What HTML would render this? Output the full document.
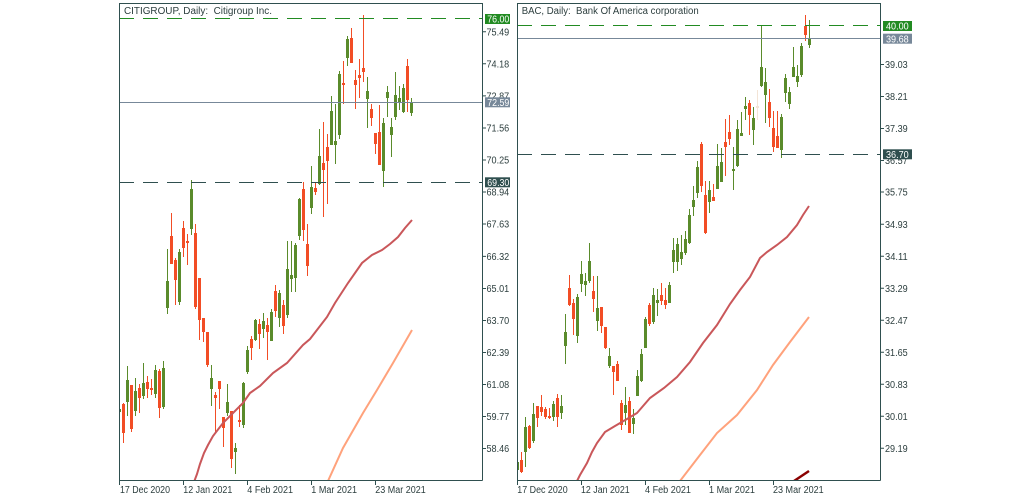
<!DOCTYPE html>
<html><head><meta charset="utf-8"><style>
html,body{margin:0;padding:0;background:#fff;width:1028px;height:500px;overflow:hidden}
svg{display:block}
text{font-family:"Liberation Sans",Arial,sans-serif;font-size:10px;fill:#2c3e3e}
.w{fill:#fff}
</style></head><body>
<svg width="1028" height="500" viewBox="0 0 1028 500" xmlns="http://www.w3.org/2000/svg">
<defs>
<clipPath id="cl"><rect x="120" y="4" width="362" height="476"/></clipPath>
<clipPath id="cr"><rect x="518" y="4" width="362" height="476"/></clipPath>
</defs>
<rect width="1028" height="500" fill="#fff"/>

<!-- LEFT PANEL -->
<g clip-path="url(#cl)">
<path fill="#5a8b2b" d="M119 407h1V414h-1zM118 409h3V412h-3zM127 366h1V416h-1zM126 380h3V402h-3zM135 378h1V416h-1zM134 391h3V411h-3zM143 363h1V399h-1zM142 383h3V396h-3zM155 365h1V398h-1zM154 370h3V394h-3zM163 361h1V409h-1zM162 368h3V407h-3zM167 249h1V314h-1zM166 281h3V308h-3zM179 249h1V305h-1zM178 252h3V302h-3zM191 180h1V235h-1zM190 189h3V229h-3zM211 365h1V406h-1zM210 378h3V389h-3zM227 384h1V416h-1zM226 402h3V413h-3zM235 443h1V474h-1zM234 448h3V452h-3zM243 382h1V428h-1zM242 383h3V425h-3zM247 346h1V374h-1zM246 350h3V372h-3zM255 319h1V341h-1zM254 320h3V340h-3zM263 313h1V338h-1zM262 321h3V329h-3zM271 309h1V341h-1zM270 312h3V341h-3zM279 290h1V327h-1zM278 293h3V318h-3zM287 241h1V318h-1zM286 269h3V315h-3zM291 241h1V292h-1zM290 275h3V279h-3zM295 243h1V292h-1zM294 245h3V278h-3zM299 198h1V240h-1zM298 199h3V236h-3zM311 166h1V214h-1zM310 187h3V208h-3zM319 129h1V185h-1zM318 156h3V184h-3zM331 96h1V145h-1zM330 111h3V145h-3zM335 104h1V164h-1zM334 141h3V145h-3zM339 71h1V139h-1zM338 74h3V135h-3zM347 36h1V66h-1zM346 39h3V58h-3zM367 77h1V128h-1zM366 91h3V99h-3zM383 118h1V187h-1zM382 123h3V171h-3zM387 86h1V117h-1zM386 92h3V98h-3zM391 118h1V157h-1zM390 127h3V135h-3zM395 72h1V120h-1zM394 95h3V117h-3zM399 86h1V110h-1zM398 98h3V102h-3zM403 84h1V113h-1zM402 88h3V112h-3zM411 98h1V116h-1zM410 102h3V113h-3z"/>
<path fill="#f24d25" d="M123 403h1V443h-1zM122 404h3V433h-3zM131 385h1V432h-1zM130 385h3V429h-3zM139 384h1V413h-1zM138 388h3V398h-3zM147 376h1V398h-1zM146 382h3V389h-3zM151 379h1V395h-1zM150 388h3V390h-3zM159 369h1V418h-1zM158 371h3V408h-3zM171 213h1V264h-1zM170 236h3V264h-3zM175 258h1V305h-1zM174 260h3V280h-3zM183 221h1V257h-1zM182 228h3V248h-3zM187 234h1V265h-1zM186 241h3V243h-3zM195 224h1V309h-1zM194 233h3V307h-3zM199 278h1V340h-1zM198 278h3V320h-3zM203 318h1V342h-1zM202 318h3V332h-3zM207 332h1V367h-1zM206 332h3V365h-3zM215 392h1V432h-1zM214 395h3V398h-3zM219 381h1V409h-1zM218 381h3V389h-3zM223 417h1V447h-1zM222 417h3V428h-3zM231 411h1V468h-1zM230 411h3V459h-3zM239 405h1V427h-1zM238 420h3V422h-3zM251 336h1V360h-1zM250 339h3V348h-3zM259 319h1V349h-1zM258 324h3V334h-3zM267 318h1V360h-1zM266 325h3V332h-3zM275 285h1V317h-1zM274 291h3V311h-3zM283 300h1V334h-1zM282 305h3V326h-3zM303 182h1V241h-1zM302 189h3V230h-3zM307 224h1V276h-1zM306 244h3V266h-3zM315 183h1V195h-1zM314 188h3V192h-3zM323 122h1V217h-1zM322 163h3V170h-3zM327 134h1V204h-1zM326 147h3V161h-3zM343 61h1V104h-1zM342 83h3V85h-3zM351 28h1V63h-1zM350 38h3V63h-3zM355 70h1V109h-1zM354 80h3V85h-3zM359 59h1V98h-1zM358 75h3V78h-3zM363 15h1V82h-1zM362 68h3V72h-3zM371 104h1V126h-1zM370 109h3V118h-3zM375 133h1V154h-1zM374 133h3V144h-3zM379 105h1V165h-1zM378 132h3V165h-3zM407 59h1V112h-1zM406 66h3V100h-3z"/>
<polyline fill="none" stroke="#c9575a" stroke-width="2" points="194,482 197,474 200,464 204,453 208,445 213,436 223,423 233,413 243,403 250,393 260,386 268,378 273,373 287,363 303,345 310,339 327,317 335,303 348,283 362,263 372,255 382,250 390,244 398,237 405,228 412,220"/>
<polyline fill="none" stroke="#ffa27c" stroke-width="2" points="328,481 343,448 363,413 377,390 393,363 412,330"/>
<path d="M119 18.5H482" stroke="#228b22" stroke-width="1" stroke-dasharray="15 9"/>
<path d="M119 102.5H482" stroke="#778899" stroke-width="1"/>
<path d="M119 182.5H482" stroke="#2f4f4f" stroke-width="1" stroke-dasharray="15 9"/>
</g>
<path d="M119.5 3V485M119 3.5H482.5M482.5 3V480.5M119 480.5H482.5" stroke="#2f4f4f" stroke-width="1" fill="none"/>
<path d="M183.5 480V485M247.5 480V485M311.5 480V485M375.5 480V485" stroke="#2f4f4f" stroke-width="1"/>
<path d="M482 31.7h4M482 63.8h4M482 95.9h4M482 128h4M482 160h4M482 192h4M482 224h4M482 256.4h4M482 288.5h4M482 320.5h4M482 352.5h4M482 384.5h4M482 416.5h4M482 448.5h4" stroke="#2f4f4f" stroke-width="1"/>
<text x="124" y="14" textLength="148" lengthAdjust="spacingAndGlyphs">CITIGROUP, Daily:&#160; Citigroup Inc.</text>
<g>
<text x="486.5" y="35.3" textLength="22.7" lengthAdjust="spacingAndGlyphs">75.49</text>
<text x="486.5" y="67.4" textLength="22.7" lengthAdjust="spacingAndGlyphs">74.18</text>
<text x="486.5" y="99.5" textLength="22.7" lengthAdjust="spacingAndGlyphs">72.87</text>
<text x="486.5" y="131.6" textLength="22.7" lengthAdjust="spacingAndGlyphs">71.56</text>
<text x="486.5" y="163.6" textLength="22.7" lengthAdjust="spacingAndGlyphs">70.25</text>
<text x="486.5" y="195.6" textLength="22.7" lengthAdjust="spacingAndGlyphs">68.94</text>
<text x="486.5" y="227.6" textLength="22.7" lengthAdjust="spacingAndGlyphs">67.63</text>
<text x="486.5" y="260" textLength="22.7" lengthAdjust="spacingAndGlyphs">66.32</text>
<text x="486.5" y="292.1" textLength="22.7" lengthAdjust="spacingAndGlyphs">65.01</text>
<text x="486.5" y="324.1" textLength="22.7" lengthAdjust="spacingAndGlyphs">63.70</text>
<text x="486.5" y="356.1" textLength="22.7" lengthAdjust="spacingAndGlyphs">62.39</text>
<text x="486.5" y="388.1" textLength="22.7" lengthAdjust="spacingAndGlyphs">61.08</text>
<text x="486.5" y="420.1" textLength="22.7" lengthAdjust="spacingAndGlyphs">59.77</text>
<text x="486.5" y="452.1" textLength="22.7" lengthAdjust="spacingAndGlyphs">58.46</text>
</g>
<rect x="485" y="14" width="25" height="10" fill="#228b22"/>
<text class="w" x="487.3" y="22.6" textLength="22" lengthAdjust="spacingAndGlyphs">76.00</text>
<rect x="485" y="97.3" width="25" height="10" fill="#778899"/>
<text class="w" x="487.3" y="105.9" textLength="22" lengthAdjust="spacingAndGlyphs">72.59</text>
<rect x="485" y="177.3" width="25" height="10" fill="#2f4f4f"/>
<text class="w" x="487.3" y="185.9" textLength="22" lengthAdjust="spacingAndGlyphs">69.30</text>
<text x="120" y="493" textLength="50" lengthAdjust="spacingAndGlyphs">17 Dec 2020</text>
<text x="183.3" y="493" textLength="49" lengthAdjust="spacingAndGlyphs">12 Jan 2021</text>
<text x="247.3" y="493" textLength="45.7" lengthAdjust="spacingAndGlyphs">4 Feb 2021</text>
<text x="311.3" y="493" textLength="45.7" lengthAdjust="spacingAndGlyphs">1 Mar 2021</text>
<text x="375.3" y="493" textLength="50.4" lengthAdjust="spacingAndGlyphs">23 Mar 2021</text>

<!-- RIGHT PANEL -->
<g clip-path="url(#cr)">
<path fill="#5a8b2b" d="M517 460h1V472h-1zM516 462h3V470h-3zM525 417h1V467h-1zM524 427h3V452h-3zM533 403h1V443h-1zM532 414h3V441h-3zM553 401h1V421h-1zM552 404h3V417h-3zM561 395h1V419h-1zM560 406h3V413h-3zM565 314h1V364h-1zM564 332h3V346h-3zM577 294h1V343h-1zM576 297h3V336h-3zM581 261h1V292h-1zM580 274h3V284h-3zM585 273h1V296h-1zM584 281h3V285h-3zM589 243h1V283h-1zM588 261h3V281h-3zM597 276h1V331h-1zM596 308h3V321h-3zM609 348h1V368h-1zM608 356h3V366h-3zM625 387h1V425h-1zM624 405h3V413h-3zM633 409h1V434h-1zM632 418h3V424h-3zM637 370h1V396h-1zM636 376h3V396h-3zM641 349h1V382h-1zM640 354h3V381h-3zM645 317h1V348h-1zM644 319h3V348h-3zM653 288h1V324h-1zM652 295h3V322h-3zM657 289h1V316h-1zM656 300h3V303h-3zM669 282h1V303h-1zM668 285h3V303h-3zM673 238h1V273h-1zM672 250h3V262h-3zM677 238h1V271h-1zM676 244h3V262h-3zM681 235h1V265h-1zM680 252h3V259h-3zM685 231h1V255h-1zM684 239h3V253h-3zM689 209h1V244h-1zM688 215h3V243h-3zM693 186h1V216h-1zM692 200h3V207h-3zM697 161h1V198h-1zM696 167h3V193h-3zM709 181h1V213h-1zM708 190h3V202h-3zM717 144h1V189h-1zM716 166h3V189h-3zM721 148h1V182h-1zM720 162h3V182h-3zM733 147h1V190h-1zM732 169h3V171h-3zM737 120h1V167h-1zM736 129h3V166h-3zM741 112h1V136h-1zM740 133h3V136h-3zM745 97h1V120h-1zM744 106h3V109h-3zM753 107h1V145h-1zM752 118h3V130h-3zM761 26h1V87h-1zM760 67h3V86h-3zM765 68h1V123h-1zM764 82h3V95h-3zM781 114h1V158h-1zM780 117h3V150h-3zM785 74h1V102h-1zM784 78h3V93h-3zM789 87h1V109h-1zM788 92h3V104h-3zM793 47h1V77h-1zM792 67h3V77h-3zM797 65h1V87h-1zM796 76h3V82h-3zM801 43h1V77h-1zM800 46h3V75h-3zM809 20h1V48h-1zM808 38h3V45h-3z"/>
<path fill="#f24d25" d="M521 452h1V473h-1zM520 460h3V472h-3zM529 425h1V449h-1zM528 426h3V448h-3zM537 406h1V427h-1zM536 406h3V418h-3zM541 395h1V416h-1zM540 407h3V412h-3zM545 407h1V419h-1zM544 409h3V417h-3zM549 408h1V419h-1zM548 416h3V418h-3zM557 394h1V427h-1zM556 398h3V417h-3zM569 275h1V306h-1zM568 288h3V305h-3zM573 299h1V335h-1zM572 303h3V319h-3zM593 276h1V312h-1zM592 291h3V299h-3zM601 307h1V333h-1zM600 307h3V326h-3zM605 327h1V349h-1zM604 327h3V348h-3zM613 366h1V395h-1zM612 366h3V372h-3zM617 361h1V381h-1zM616 364h3V381h-3zM621 400h1V430h-1zM620 403h3V425h-3zM629 397h1V433h-1zM628 401h3V433h-3zM649 303h1V326h-1zM648 305h3V324h-3zM661 283h1V305h-1zM660 295h3V301h-3zM665 288h1V309h-1zM664 300h3V305h-3zM701 142h1V192h-1zM700 144h3V186h-3zM705 181h1V234h-1zM704 195h3V233h-3zM713 184h1V201h-1zM712 197h3V201h-3zM725 119h1V176h-1zM724 142h3V147h-3zM729 115h1V145h-1zM728 132h3V139h-3zM749 100h1V135h-1zM748 103h3V115h-3zM769 89h1V127h-1zM768 102h3V118h-3zM773 111h1V152h-1zM772 128h3V147h-3zM777 111h1V148h-1zM776 136h3V148h-3zM805 15h1V41h-1zM804 26h3V35h-3z"/>
<path fill="#f3e4d6" d="M757 90h1V120h-1zM756 106h3V108h-3z"/>
<polyline fill="none" stroke="#c9575a" stroke-width="2" points="577,481 580,475 587,463 592,452 597,443 605,432 615,426 627,419 637,413 650,398 664,388 677,377 690,362 703,343 717,325 730,304 740,290 750,277 760,258 767,252 777,245 787,237 797,225 803,215 809,206"/>
<polyline fill="none" stroke="#ffa27c" stroke-width="2" points="680,481 700,455 717,433 737,415 757,390 773,365 790,342 809,317"/>
<polyline fill="none" stroke="#8b0000" stroke-width="2.5" points="794,481 800,477 809,471"/>
<path d="M517 25.5H880" stroke="#228b22" stroke-width="1" stroke-dasharray="15 9"/>
<path d="M517 38.5H880" stroke="#778899" stroke-width="1"/>
<path d="M517 154.5H880" stroke="#2f4f4f" stroke-width="1" stroke-dasharray="15 9"/>
</g>
<path d="M517.5 3V485M517 3.5H880.5M880.5 3V480.5M517 480.5H880.5" stroke="#2f4f4f" stroke-width="1" fill="none"/>
<path d="M581.5 480V485M645.5 480V485M709.5 480V485M773.5 480V485" stroke="#2f4f4f" stroke-width="1"/>
<path d="M880 64.5h4M880 96.5h4M880 128.5h4M880 160.5h4M880 192h4M880 224.3h4M880 256.3h4M880 288.3h4M880 320.3h4M880 352.3h4M880 384.3h4M880 416.3h4M880 448.3h4" stroke="#2f4f4f" stroke-width="1"/>
<text x="521.7" y="14" textLength="177" lengthAdjust="spacingAndGlyphs">BAC, Daily:&#160; Bank Of America corporation</text>
<g>
<text x="885" y="68.1" textLength="22.7" lengthAdjust="spacingAndGlyphs">39.03</text>
<text x="885" y="100.1" textLength="22.7" lengthAdjust="spacingAndGlyphs">38.21</text>
<text x="885" y="132.1" textLength="22.7" lengthAdjust="spacingAndGlyphs">37.39</text>
<text x="885" y="164.1" textLength="22.7" lengthAdjust="spacingAndGlyphs">36.57</text>
<text x="885" y="195.6" textLength="22.7" lengthAdjust="spacingAndGlyphs">35.75</text>
<text x="885" y="227.9" textLength="22.7" lengthAdjust="spacingAndGlyphs">34.93</text>
<text x="885" y="259.9" textLength="22.7" lengthAdjust="spacingAndGlyphs">34.11</text>
<text x="885" y="291.9" textLength="22.7" lengthAdjust="spacingAndGlyphs">33.29</text>
<text x="885" y="323.9" textLength="22.7" lengthAdjust="spacingAndGlyphs">32.47</text>
<text x="885" y="355.9" textLength="22.7" lengthAdjust="spacingAndGlyphs">31.65</text>
<text x="885" y="387.9" textLength="22.7" lengthAdjust="spacingAndGlyphs">30.83</text>
<text x="885" y="419.9" textLength="22.7" lengthAdjust="spacingAndGlyphs">30.01</text>
<text x="885" y="451.9" textLength="22.7" lengthAdjust="spacingAndGlyphs">29.19</text>
</g>
<rect x="883" y="21" width="29" height="10" fill="#228b22"/>
<text class="w" x="886" y="29.6" textLength="22.7" lengthAdjust="spacingAndGlyphs">40.00</text>
<rect x="883" y="33.7" width="29" height="10" fill="#778899"/>
<text class="w" x="886" y="42.3" textLength="22.7" lengthAdjust="spacingAndGlyphs">39.68</text>
<rect x="883" y="149.3" width="29" height="10" fill="#2f4f4f"/>
<text class="w" x="886" y="157.9" textLength="22.7" lengthAdjust="spacingAndGlyphs">36.70</text>
<text x="517.3" y="493" textLength="50.4" lengthAdjust="spacingAndGlyphs">17 Dec 2020</text>
<text x="581" y="493" textLength="48.7" lengthAdjust="spacingAndGlyphs">12 Jan 2021</text>
<text x="645" y="493" textLength="46" lengthAdjust="spacingAndGlyphs">4 Feb 2021</text>
<text x="709" y="493" textLength="46" lengthAdjust="spacingAndGlyphs">1 Mar 2021</text>
<text x="773" y="493" textLength="50.7" lengthAdjust="spacingAndGlyphs">23 Mar 2021</text>
</svg>
</body></html>
